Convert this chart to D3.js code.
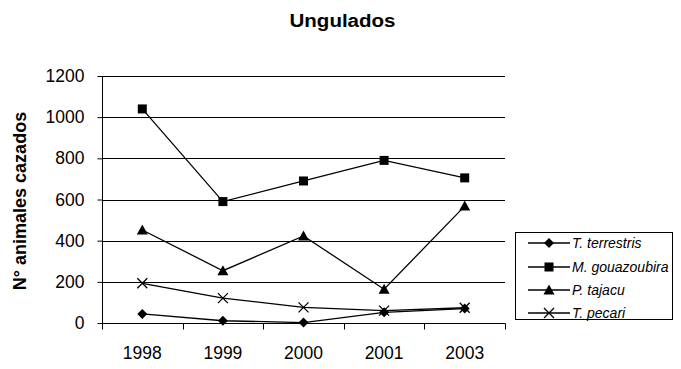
<!DOCTYPE html>
<html>
<head>
<meta charset="utf-8">
<script src="https://cdn.jsdelivr.net/npm/d3@7"></script>
<style>
  html, body { margin: 0; padding: 0; background: #fff; }
  svg { display: block; font-family: "Liberation Sans", Arial, sans-serif; }
</style>
</head>
<body>
<svg id="chart" width="681" height="369"></svg>
<script>
// Hunting records of ungulates per year
const years = ["1998", "1999", "2000", "2001", "2003"];
const terrestris = [44, 11, 2, 52, 70];
const gouazoubira = [1040, 590, 690, 790, 705];
const tajacu = [452, 254, 423, 164, 568];
const pecari = [193, 121, 76, 60, 74];
const yTicks = [0, 200, 400, 600, 800, 1000, 1200];

const seriesNames = ["T. terrestris", "M. gouazoubira", "P. tajacu", "T. pecari"];
const seriesValues = [terrestris, gouazoubira, tajacu, pecari];
const markerTypes = ["diamond", "square", "triangle", "cross"];

const svg = d3.select("#chart");
const plot = { left: 102, right: 505, top: 76, bottom: 323 };

const x = d3.scaleBand().domain(years).range([plot.left, plot.right]);
const y = d3.scaleLinear().domain([0, 1200]).range([plot.bottom, plot.top]);

// Title
svg.append("text")
  .attr("x", 342.5).attr("y", 27)
  .attr("text-anchor", "middle")
  .attr("font-size", 18).attr("font-weight", "bold")
  .attr("textLength", 106).attr("lengthAdjust", "spacingAndGlyphs")
  .text("Ungulados");

// Horizontal gridlines
svg.append("g").selectAll("line")
  .data(yTicks.filter(d => d > 0))
  .join("line")
  .attr("x1", plot.left).attr("x2", plot.right)
  .attr("y1", d => Math.round(y(d)) + 0.5).attr("y2", d => Math.round(y(d)) + 0.5)
  .attr("stroke", "#000").attr("stroke-width", 1);

// Y axis
const yAxis = svg.append("g")
  .attr("transform", `translate(${plot.left + 0.5},0)`)
  .call(d3.axisLeft(y).tickValues(yTicks).tickSize(5).tickPadding(13).tickFormat(d3.format("d")));
yAxis.selectAll("text").attr("font-size", 17.5).attr("fill", "#000").attr("font-family", "Liberation Sans, Arial, sans-serif");
yAxis.selectAll("line, path").attr("stroke", "#000");
yAxis.select(".domain").attr("d", `M0,${plot.top}V${plot.bottom + 1}`);

// X axis with ticks at category boundaries
const xg = svg.append("g").attr("transform", `translate(0,${plot.bottom + 0.5})`);
xg.append("line").attr("x1", plot.left).attr("x2", plot.right + 0.5).attr("stroke", "#000");
const bounds = years.map(d => x(d)).concat([x.range()[1]]);
xg.selectAll("line.tk").data(bounds).join("line").attr("class", "tk")
  .attr("x1", d => Math.round(d) + 0.5).attr("x2", d => Math.round(d) + 0.5)
  .attr("y1", 0).attr("y2", 6).attr("stroke", "#000");
xg.selectAll("text").data(years).join("text")
  .attr("x", d => x(d) + x.bandwidth() / 2)
  .attr("y", 35.5)
  .attr("text-anchor", "middle")
  .attr("font-size", 17.5)
  .text(d => d);

// Y axis title
svg.append("text")
  .attr("transform", "translate(26,201) rotate(-90)")
  .attr("text-anchor", "middle")
  .attr("font-size", 18).attr("font-weight", "bold")
  .text("N° animales cazados");

// Marker drawing
function drawMarker(g, type) {
  if (type === "diamond") {
    g.append("path").attr("d", "M0,-5L5,0L0,5L-5,0Z").attr("fill", "#000");
  } else if (type === "square") {
    g.append("rect").attr("x", -4.5).attr("y", -4.5).attr("width", 9).attr("height", 9).attr("fill", "#000");
  } else if (type === "triangle") {
    g.append("path").attr("d", "M0,-5.5L5.5,4.5L-5.5,4.5Z").attr("fill", "#000");
  } else {
    g.append("path").attr("d", "M-5,-5L5,5M-5,5L5,-5").attr("stroke", "#000").attr("stroke-width", 1.3).attr("fill", "none");
  }
}

const cx = d => x(d) + x.bandwidth() / 2;
const line = d3.line().x((v, i) => cx(years[i])).y(v => y(v));

seriesValues.forEach((vals, s) => {
  svg.append("path")
    .datum(vals)
    .attr("d", line)
    .attr("fill", "none")
    .attr("stroke", "#000")
    .attr("stroke-width", 1.3);
  vals.forEach((v, i) => {
    const g = svg.append("g").attr("transform", `translate(${cx(years[i])},${y(v)})`);
    drawMarker(g, markerTypes[s]);
  });
});

// Legend
const legend = svg.append("g");
legend.append("rect")
  .attr("x", 515.5).attr("y", 232.5).attr("width", 157).attr("height", 87)
  .attr("fill", "#fff").attr("stroke", "#000");
const rowY = [243, 267, 290, 313];
seriesNames.forEach((name, i) => {
  const ry = rowY[i];
  legend.append("line").attr("x1", 528).attr("x2", 570).attr("y1", ry).attr("y2", ry)
    .attr("stroke", "#000").attr("stroke-width", 1.3);
  const g = legend.append("g").attr("transform", `translate(549,${ry})`);
  drawMarker(g, markerTypes[i]);
  legend.append("text")
    .attr("x", 572).attr("y", ry + 5)
    .attr("font-size", 14).attr("font-style", "italic")
    .text(name);
});
</script>
</body>
</html>
